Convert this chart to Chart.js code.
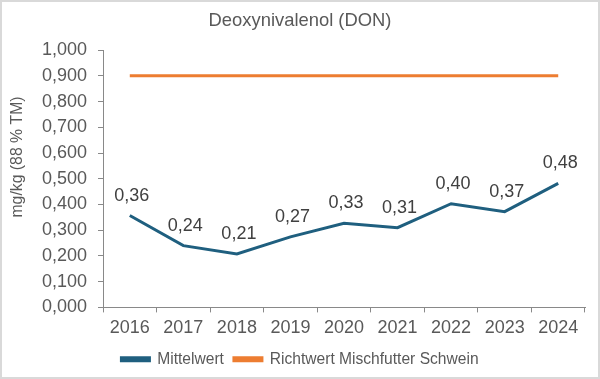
<!DOCTYPE html>
<html>
<head>
<meta charset="utf-8">
<script src="https://cdn.jsdelivr.net/npm/chart.js@4.4.1/dist/chart.umd.min.js"></script>
<style>
  html, body { margin: 0; padding: 0; background: #ffffff; }
  #wrap { width: 600px; height: 379px; position: relative; }
</style>
</head>
<body>
<div id="wrap"><canvas id="c"></canvas></div>
<script>
const categories = ['2016', '2017', '2018', '2019', '2020', '2021', '2022', '2023', '2024'];
const mittelwert = [0.357, 0.240, 0.208, 0.274, 0.327, 0.310, 0.403, 0.372, 0.482];
const richtwert = [0.9, 0.9, 0.9, 0.9, 0.9, 0.9, 0.9, 0.9, 0.9];
const seriesNames = ['Mittelwert', 'Richtwert Mischfutter Schwein'];
const chartTitle = 'Deoxynivalenol (DON)';
const yAxisTitle = 'mg/kg (88 % TM)';

const FONT = "'Liberation Sans', Arial, sans-serif";
const TEXT = '#595959';
const AXIS = '#898989';

const bgBorder = {
  id: 'bgBorder',
  beforeDraw(chart) {
    const ctx = chart.ctx;
    ctx.save();
    ctx.fillStyle = '#ffffff';
    ctx.fillRect(0, 0, chart.width, chart.height);
    ctx.strokeStyle = '#d9d9d9';
    ctx.lineWidth = 2;
    ctx.strokeRect(1, 1, chart.width - 2, chart.height - 2);
    ctx.restore();
  }
};

const yTitle = {
  id: 'yTitle',
  afterDraw(chart) {
    const ctx = chart.ctx;
    ctx.save();
    ctx.translate(18, 157);
    ctx.rotate(-Math.PI / 2);
    ctx.font = '15.8px ' + FONT;
    ctx.fillStyle = TEXT;
    ctx.textAlign = 'center';
    ctx.textBaseline = 'middle';
    ctx.fillText(yAxisTitle, 0, 0);
    ctx.restore();
  }
};

const dataLabels = {
  id: 'dataLabels',
  afterDatasetsDraw(chart) {
    const ctx = chart.ctx;
    const meta = chart.getDatasetMeta(0);
    const data = chart.data.datasets[0].data;
    ctx.save();
    ctx.font = '18px ' + FONT;
    ctx.fillStyle = '#404040';
    ctx.textAlign = 'center';
    ctx.textBaseline = 'middle';
    meta.data.forEach((pt, i) => {
      const label = data[i].toFixed(2).replace('.', ',');
      ctx.fillText(label, pt.x + 2, pt.y - 20);
    });
    ctx.restore();
  }
};

new Chart(document.getElementById('c'), {
  type: 'line',
  data: {
    labels: categories,
    datasets: [
      {
        label: seriesNames[0],
        data: mittelwert,
        borderColor: '#1f5f7f',
        backgroundColor: '#1f5f7f',
        borderWidth: 3,
        pointRadius: 0,
        tension: 0
      },
      {
        label: seriesNames[1],
        data: richtwert,
        borderColor: '#ed7d31',
        backgroundColor: '#ed7d31',
        borderWidth: 3,
        pointRadius: 0,
        tension: 0
      }
    ]
  },
  options: {
    responsive: true,
    maintainAspectRatio: false,
    animation: false,
    devicePixelRatio: 1,
    layout: { padding: { left: 0, right: 0, top: 0, bottom: 2 } },
    plugins: {
      title: {
        display: true,
        text: chartTitle,
        color: TEXT,
        font: { family: FONT, size: 18.4, weight: 'normal' },
        padding: { top: 10, bottom: 18 }
      },
      legend: {
        display: true,
        position: 'bottom',
        labels: {
          color: TEXT,
          font: { family: FONT, size: 15.6 },
          boxWidth: 28,
          boxHeight: 3,
          padding: 10
        }
      },
      tooltip: { enabled: false }
    },
    scales: {
      x: {
        offset: true,
        grid: { display: true, offset: true, drawOnChartArea: false, tickLength: 5, color: AXIS },
        border: { color: AXIS, width: 1 },
        ticks: { color: TEXT, font: { family: FONT, size: 18 }, padding: 5, maxRotation: 0 },
        afterFit(scale) { scale.height = 34; }
      },
      y: {
        min: 0,
        max: 1,
        grid: { display: true, drawOnChartArea: false, tickLength: 5, color: AXIS },
        border: { color: AXIS, width: 1 },
        ticks: {
          stepSize: 0.1,
          color: TEXT,
          font: { family: FONT, size: 18 },
          padding: 11,
          callback: (v) => Number(v).toFixed(3).replace('.', ',')
        },
        afterFit(scale) { scale.width = 103; }
      },
      yRight: {
        position: 'right',
        display: true,
        grid: { display: false },
        border: { display: false },
        ticks: { display: false },
        afterFit(scale) { scale.width = 15; }
      }
    }
  },
  plugins: [bgBorder, yTitle, dataLabels]
});
</script>
</body>
</html>
